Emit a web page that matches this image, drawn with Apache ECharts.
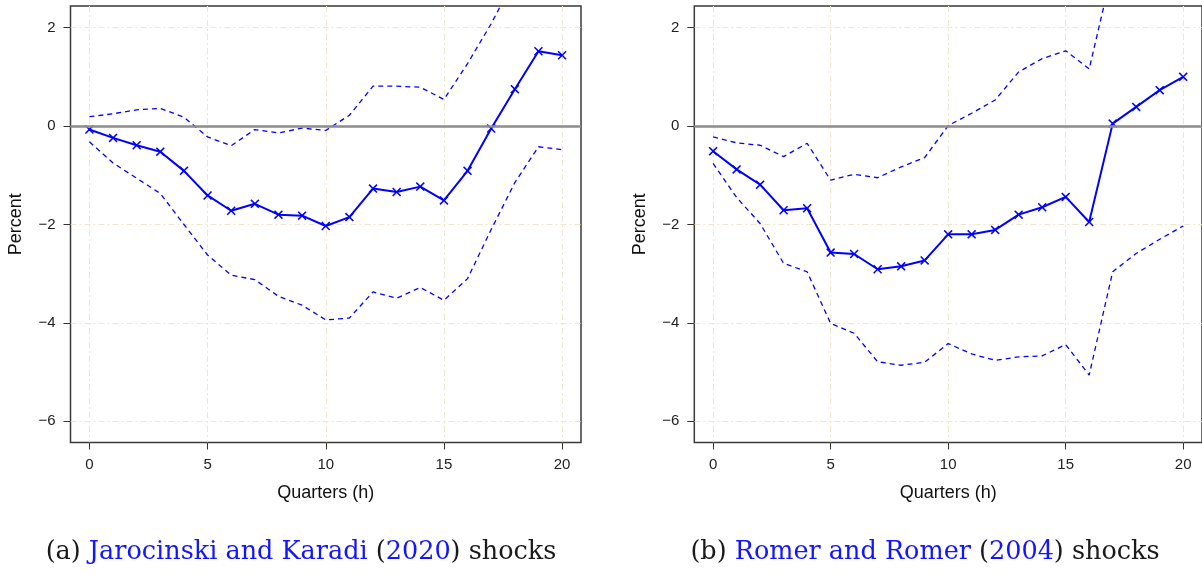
<!DOCTYPE html>
<html>
<head>
<meta charset="utf-8">
<script src="https://cdn.jsdelivr.net/npm/echarts@6/dist/echarts.min.js"></script>
<style>
  html, body { margin: 0; padding: 0; background: #ffffff; }
  #chart { width: 1202px; height: 575px; }
</style>
</head>
<body>
<div id="chart"></div>
<script>
// Horizons (quarters after the shock)
const horizons = [0, 1, 2, 3, 4, 5, 6, 7, 8, 9, 10, 11, 12, 13, 14, 15, 16, 17, 18, 19, 20];

// Panel (a): Jarocinski and Karadi (2020) shocks
const jkIrf   = [-0.07, -0.24, -0.39, -0.52, -0.91, -1.41, -1.72, -1.58, -1.80, -1.82, -2.03, -1.85, -1.27, -1.34, -1.23, -1.51, -0.91, -0.05, 0.75, 1.52, 1.44];
const jkUpper = [0.19, 0.25, 0.33, 0.36, 0.18, -0.22, -0.40, -0.07, -0.14, -0.04, -0.09, 0.22, 0.81, 0.81, 0.79, 0.54, 1.27, 2.08, 3.00, 3.70, 3.60];
const jkLower = [-0.32, -0.75, -1.06, -1.37, -2.00, -2.62, -3.03, -3.12, -3.46, -3.64, -3.94, -3.90, -3.37, -3.50, -3.28, -3.54, -3.10, -2.10, -1.15, -0.42, -0.48];

// Panel (b): Romer and Romer (2004) shocks
const rrIrf   = [-0.51, -0.88, -1.19, -1.71, -1.67, -2.57, -2.60, -2.91, -2.85, -2.73, -2.20, -2.20, -2.11, -1.80, -1.65, -1.44, -1.95, 0.05, 0.39, 0.73, 1.00];
const rrUpper = [-0.22, -0.34, -0.39, -0.62, -0.35, -1.10, -0.98, -1.05, -0.83, -0.64, 0.01, 0.26, 0.53, 1.10, 1.37, 1.53, 1.16, 3.20, 3.80, 4.10, 4.30];
const rrLower = [-0.76, -1.45, -1.98, -2.79, -2.96, -4.01, -4.21, -4.79, -4.86, -4.80, -4.42, -4.63, -4.76, -4.69, -4.67, -4.44, -5.06, -2.96, -2.59, -2.30, -2.03];

// Axis ticks
const xTicks = [0, 5, 10, 15, 20];
const yTicks = [-6, -4, -2, 0, 2];

const BLUE = '#0000ff';
const GRID_COLOR = '#eee6cf';
const SANS = 'Liberation Sans, Arial, Helvetica, sans-serif';
const CROSS = 'path://M0,1.2L1.2,0L5,3.8L8.8,0L10,1.2L6.2,5L10,8.8L8.8,10L5,6.2L1.2,10L0,8.8L3.8,5Z';

const pair = (ys) => horizons.map((h, i) => [h, ys[i]]);
const minus = (v) => String(v).replace('-', '\u2212');

function xAxisFor(gridIndex) {
  return {
    type: 'value', gridIndex, position: 'bottom',
    min: -0.8, max: 20.8,
    name: 'Quarters (h)', nameLocation: 'middle', nameGap: 42,
    nameTextStyle: { fontSize: 18, color: '#111', fontFamily: SANS },
    axisLine: { show: false, onZero: false },
    axisTick: { show: true, inside: false, length: 7, customValues: xTicks, lineStyle: { color: '#333', width: 1 } },
    axisLabel: { customValues: xTicks, margin: 15, fontSize: 15, color: '#222', fontFamily: SANS, formatter: minus },
    splitLine: { show: true, lineStyle: { color: GRID_COLOR, width: 1, type: [6, 3, 2, 3] } }
  };
}

function yAxisFor(gridIndex) {
  return {
    type: 'value', gridIndex, position: 'left',
    min: -6.43, max: 2.44,
    name: 'Percent', nameLocation: 'middle', nameGap: 45, nameRotate: 90,
    nameTextStyle: { fontSize: 18, color: '#111', fontFamily: SANS },
    axisLine: { show: false, onZero: false },
    axisTick: { show: true, inside: false, length: 7, customValues: yTicks, lineStyle: { color: '#333', width: 1 } },
    axisLabel: { customValues: yTicks, margin: 15, fontSize: 15, color: '#222', fontFamily: SANS, formatter: minus },
    splitLine: { show: true, lineStyle: { color: GRID_COLOR, width: 1, type: [6, 3, 2, 3] } }
  };
}

function panelSeries(idx, irf, upper, lower) {
  const band = (name, ys) => ({
    name, type: 'line', xAxisIndex: idx, yAxisIndex: idx,
    data: pair(ys), showSymbol: false, symbol: 'none', clip: true,
    lineStyle: { color: BLUE, width: 1.3, type: [5, 4] }, z: 3
  });
  return [
    band('upper', upper),
    band('lower', lower),
    {
      name: 'response', type: 'line', xAxisIndex: idx, yAxisIndex: idx,
      data: pair(irf), symbol: CROSS, symbolSize: 9, showSymbol: true, clip: true,
      itemStyle: { color: BLUE }, lineStyle: { color: BLUE, width: 2 }, z: 4,
      markLine: {
        silent: true, symbol: 'none', label: { show: false }, animation: false,
        lineStyle: { color: '#8c8c8c', width: 2.5, type: 'solid', opacity: 1 },
        data: [{ yAxis: 0 }]
      }
    }
  ];
}

const chart = echarts.init(document.getElementById('chart'), null, { renderer: 'canvas' });
chart.setOption({
  animation: false,
  backgroundColor: '#ffffff',
  grid: [
    { left: 70.5, top: 6, width: 510.5, height: 436.5, show: true, borderColor: '#3a3a3a', borderWidth: 1.5, backgroundColor: 'transparent' },
    { left: 694.3, top: 6, width: 510.3, height: 436.5, show: true, borderColor: '#3a3a3a', borderWidth: 1.5, backgroundColor: 'transparent' }
  ],
  xAxis: [xAxisFor(0), xAxisFor(1)],
  yAxis: [yAxisFor(0), yAxisFor(1)],
  series: [
    ...panelSeries(0, jkIrf, jkUpper, jkLower),
    ...panelSeries(1, rrIrf, rrUpper, rrLower)
  ],
  graphic: [
    {
      type: 'text', x: 301, y: 552,
      style: {
        text: '{k|(a) }{b|Jarocinski and Karadi}{k| (}{b|2020}{k|) shocks}',
        align: 'center', verticalAlign: 'middle',
        rich: {
          k: { fontFamily: 'DejaVu Serif', fontSize: 25.5, fill: '#1a1a1a' },
          b: { fontFamily: 'DejaVu Serif', fontSize: 25.5, fill: '#1414ff' }
        }
      }
    },
    {
      type: 'text', x: 925, y: 552,
      style: {
        text: '{k|(b) }{b|Romer and Romer}{k| (}{b|2004}{k|) shocks}',
        align: 'center', verticalAlign: 'middle',
        rich: {
          k: { fontFamily: 'DejaVu Serif', fontSize: 25.5, fill: '#1a1a1a' },
          b: { fontFamily: 'DejaVu Serif', fontSize: 25.5, fill: '#1414ff' }
        }
      }
    }
  ]
});
</script>
</body>
</html>
